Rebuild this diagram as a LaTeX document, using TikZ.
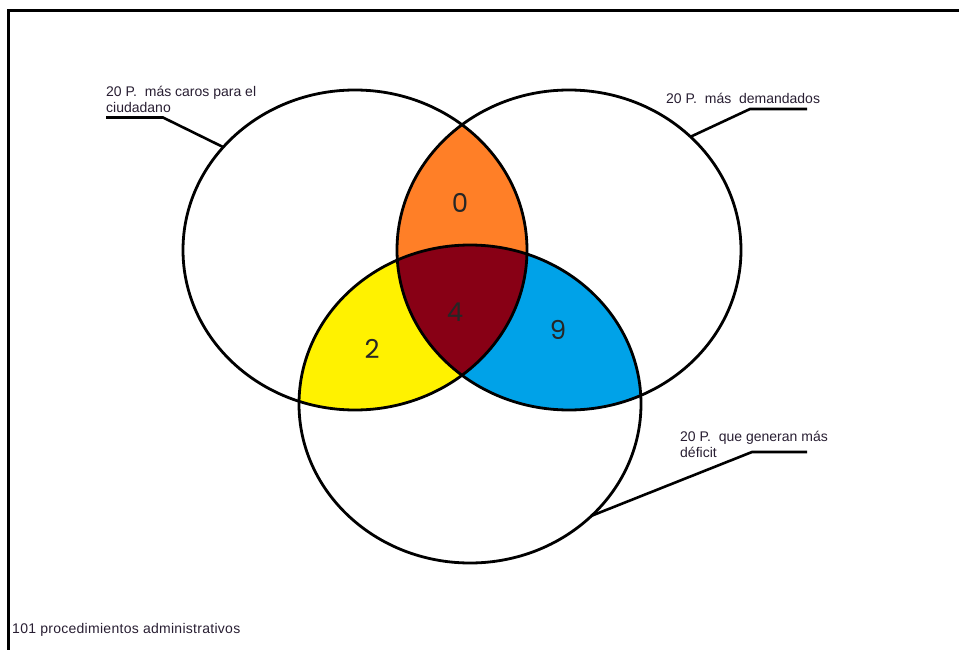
\documentclass[tikz,border=0pt]{standalone}
\usepackage{fontspec}
\setmainfont{Liberation Sans}
\newfontfamily\digitfont{Poppins}
\definecolor{vorange}{RGB}{255,127,39}
\definecolor{vyellow}{RGB}{255,242,0}
\definecolor{vblue}{RGB}{0,162,232}
\definecolor{vred}{RGB}{136,0,21}
\definecolor{vtext}{RGB}{40,30,50}
\begin{document}
\begin{tikzpicture}[x=1pt,y=-1pt,
  outline/.style={line width=2.8pt},
  leader/.style={line width=2.6pt},
  lbl/.style={anchor=base west, inner sep=0pt, text=vtext, font=\fontsize{14}{16}\selectfont},
  num/.style={inner sep=0pt, text=black!85, font=\digitfont\fontsize{26}{26}\selectfont}]
\useasboundingbox (0,0) rectangle (959,650);
\def\elL{(355,250) ellipse [x radius=172pt, y radius=160pt]}
\def\elR{(569,250) ellipse [x radius=172pt, y radius=160pt]}
\def\elB{(470,404) ellipse [x radius=171pt, y radius=159pt]}
% frame
\draw[line width=2.8pt] (959,10.5) -- (8.7,10.5) -- (8.7,650);
% fills
\begin{scope}\clip \elL; \fill[vorange] \elR; \end{scope}
\begin{scope}\clip \elL; \fill[vyellow] \elB; \end{scope}
\begin{scope}\clip \elR; \fill[vblue] \elB; \end{scope}
\begin{scope}\clip \elL; \clip \elR; \fill[vred] \elB; \end{scope}
% outlines
\draw[outline] \elL;
\draw[outline] \elR;
\draw[outline] \elB;
% numbers
\node[num] (n0) at (460,203) {0};
\node[num] (n4) at (455,312) {4};
\node[num] (n2) at (372,349) {2};
\node[num] (n9) at (558,330) {9};
% labels
\node[lbl] (tL1) at (106,97) {20 P.\ \ más caros para el};
\node[lbl] (tL2) at (106,113) {ciudadano};
\node[lbl] (tR1) at (666,104) {20 P.\ \ más\ \ demandados};
\node[lbl] (tB1) at (680,441) {20 P.\ \ que generan más};
\node[lbl] (tB2) at (680,457) {déficit};
\node[lbl] (tT) at (12,633) {\addfontfeatures{LetterSpace=2}101 procedimientos administrativos};
% leader lines
\coordinate (lA) at (106,117.5);
\coordinate (lB) at (163,117.5);
\coordinate (lC) at (223,147);
\coordinate (rA) at (807,109);
\coordinate (rB) at (750,109);
\coordinate (rC) at (690,137);
\coordinate (bA) at (807,452);
\coordinate (bB) at (752,452);
\coordinate (bC) at (591,516);
\draw[leader] (lA) -- (lB) -- (lC);
\draw[leader] (rA) -- (rB) -- (rC);
\draw[leader] (bA) -- (bB) -- (bC);
\end{tikzpicture}
\end{document}
